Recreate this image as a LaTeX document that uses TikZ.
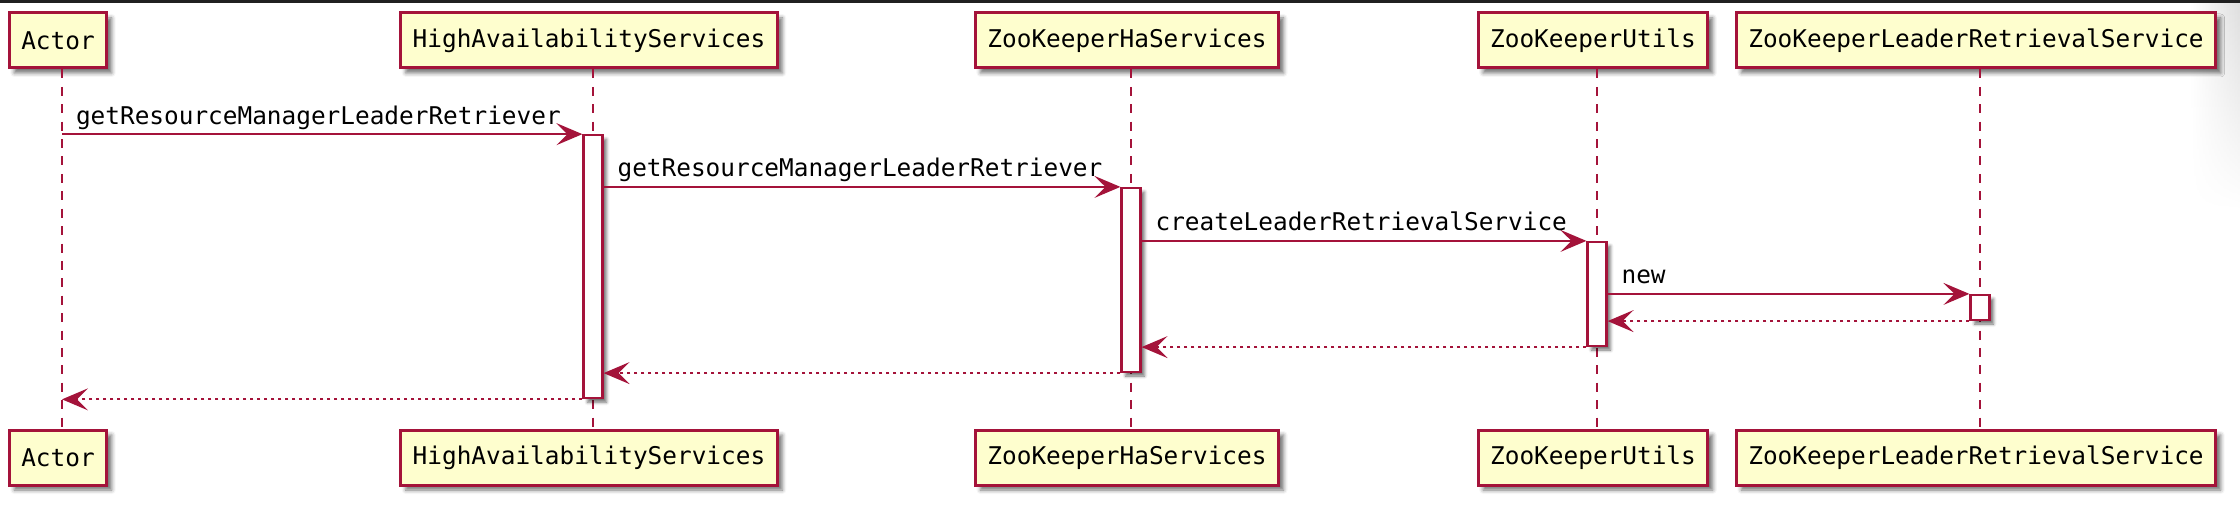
\documentclass[tikz,border=0pt]{standalone}
\usepackage{fontspec}
\setmonofont{DejaVu Sans Mono}
\usetikzlibrary{arrows.meta,shadows.blur,fadings}

\definecolor{umlred}{HTML}{A4133A}
\definecolor{umlyellow}{HTML}{FEFECE}
\definecolor{topbar}{HTML}{202020}

\tikzstyle{participant} = [rectangle, draw=umlred, line width=1.5pt, fill=umlyellow, minimum height=27.5pt, inner xsep=6pt, font=\ttfamily\fontsize{12.2}{14}\selectfont, blur shadow={shadow xshift=2.5pt, shadow yshift=-2.5pt, shadow blur radius=2pt, shadow opacity=55}]
\tikzstyle{activation} = [rectangle, draw=umlred, line width=1.1pt, fill=white, minimum width=9.5pt, inner sep=0pt, blur shadow={shadow xshift=2pt, shadow yshift=-2pt, shadow blur radius=1.5pt, shadow opacity=55}]
\tikzstyle{lifeline} = [draw=umlred, line width=1pt, dash pattern=on 4.5pt off 4.2pt]
\tikzstyle{call} = [draw=umlred, line width=1pt, -{Stealth[length=13pt, width=11pt, inset=5.5pt]}]
\tikzstyle{reply} = [call, dash pattern=on 1.75pt off 1.75pt]
\tikzstyle{msg} = [font=\ttfamily\fontsize{12.2}{14}\selectfont, anchor=base west, inner sep=0pt, xshift=6.5pt, yshift=5pt, text=black]

\begin{document}
\begin{tikzpicture}[x=0.5pt, y=-0.5pt]
    \useasboundingbox (0,0) rectangle (2240,508);
    %\draw[step=100,gray,very thin] (0,0) grid (2240,508);
    \fill [topbar] (0,0) rectangle (2240,3.5);
    \shade [left color=white, right color=black!13, path fading=south] (2190,3.5) rectangle (2240,210);

    % heads and feet
	\node (Actor top) [participant] at (58,40.5) {Actor};
	\node (HAS top) [participant] at (589,40.5) {HighAvailabilityServices};
	\node (ZKHS top) [participant] at (1127,40.5) {ZooKeeperHaServices};
	\node (ZKU top) [participant] at (1593,40.5) {ZooKeeperUtils};
	\node (ZKLRS top) [participant] at (1976,40.5) {ZooKeeperLeaderRetrievalService};
	\node (Actor bottom) [participant] at (58,457.5) {Actor};
	\node (HAS bottom) [participant] at (589,457.5) {HighAvailabilityServices};
	\node (ZKHS bottom) [participant] at (1127,457.5) {ZooKeeperHaServices};
	\node (ZKU bottom) [participant] at (1593,457.5) {ZooKeeperUtils};
	\node (ZKLRS bottom) [participant] at (1976,457.5) {ZooKeeperLeaderRetrievalService};

    % lifelines
	\draw [lifeline] ([xshift=2pt]Actor top.south) -- ([xshift=2pt]Actor bottom.north);
	\draw [lifeline] ([xshift=2pt]HAS top.south) -- ([xshift=2pt]HAS bottom.north);
	\draw [lifeline] ([xshift=2pt]ZKHS top.south) -- ([xshift=2pt]ZKHS bottom.north);
	\draw [lifeline] ([xshift=2pt]ZKU top.south) -- ([xshift=2pt]ZKU bottom.north);
	\draw [lifeline] ([xshift=2pt]ZKLRS top.south) -- ([xshift=2pt]ZKLRS bottom.north);
	\coordinate (Actor line) at (62,0);

    % activations
	\node (HAS act) [activation, minimum height=131.5pt] at (593,266.75) {};
	\node (ZKHS act) [activation, minimum height=92pt] at (1131,280) {};
	\node (ZKU act) [activation, minimum height=52pt] at (1597,294) {};
	\node (ZKLRS act) [activation, minimum height=12.5pt] at (1980,307.5) {};

    % calls
	\draw [call] (Actor line |- HAS act.north) -- (HAS act.north west) node [msg, pos=0] {getResourceManagerLeaderRetriever};
	\draw [call] (HAS act.east |- ZKHS act.north) -- (ZKHS act.north west) node [msg, pos=0] {getResourceManagerLeaderRetriever};
	\draw [call] (ZKHS act.east |- ZKU act.north) -- (ZKU act.north west) node [msg, pos=0] {createLeaderRetrievalService};
	\draw [call] (ZKU act.east |- ZKLRS act.north) -- (ZKLRS act.north west) node [msg, pos=0] {new};

    % replies
	\draw [reply] (ZKLRS act.south west) -- (ZKU act.east |- ZKLRS act.south);
	\draw [reply] (ZKU act.south west) -- (ZKHS act.east |- ZKU act.south);
	\draw [reply] (ZKHS act.south west) -- (HAS act.east |- ZKHS act.south);
	\draw [reply] (HAS act.south west) -- (Actor line |- HAS act.south);
\end{tikzpicture}
\end{document}
